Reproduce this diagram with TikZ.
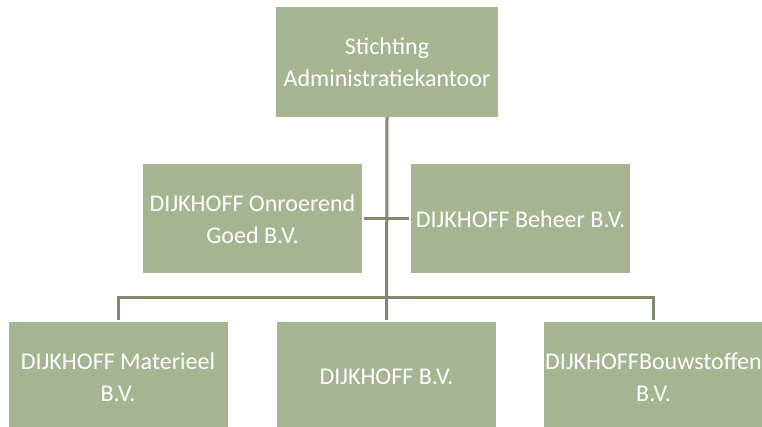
\documentclass[tikz,border=0pt]{standalone}
\usepackage{fontspec}
\setmainfont{Carlito}
\usepackage{tikz}
\definecolor{olijf}{RGB}{166,180,146}
\definecolor{olijfdonker}{RGB}{126,139,108}

\begin{document}
\begin{tikzpicture}[x=1pt,y=1pt,
  blok/.style={fill=olijf,draw=none,text=white,align=center,inner sep=0pt,
    minimum width=219pt,minimum height=109pt,font=\fontsize{24}{32}\selectfont},
  lijn/.style={draw=olijfdonker,line width=3pt}]
\useasboundingbox (0,0) rectangle (762,427);
\begin{scope}
\clip (0,0) rectangle (762,427);
\node[blok,minimum width=222pt,minimum height=110pt] (stichting) at (387,365) {Stichting\\Administratiekantoor};
\node[blok] (onroerend) at (252.5,208) {DIJKHOFF Onroerend\\Goed B.V.};
\node[blok] (beheer) at (520.5,208) {DIJKHOFF Beheer B.V.};
\node[blok,minimum height=110pt] (materieel) at (118,50) {DIJKHOFF Materieel\\B.V.};
\node[blok,minimum height=110pt] (dijkhoff) at (386.5,50) {DIJKHOFF B.V.};
\node[blok,minimum height=110pt] (bouwstoffen) at (653.5,50) {DIJKHOFFBouwstoffen\\B.V.};
\path coordinate (balk) at (386.5,129);
\draw[lijn,shorten >=2pt] (stichting.south) -- (dijkhoff.north);
\draw[lijn,shorten <=2pt,shorten >=2pt] (onroerend.east) -- (beheer.west);
\draw[lijn,shorten <=2pt,shorten >=2pt] (materieel.north) |- (balk) -| (bouwstoffen.north);
\end{scope}
\end{tikzpicture}
\end{document}
